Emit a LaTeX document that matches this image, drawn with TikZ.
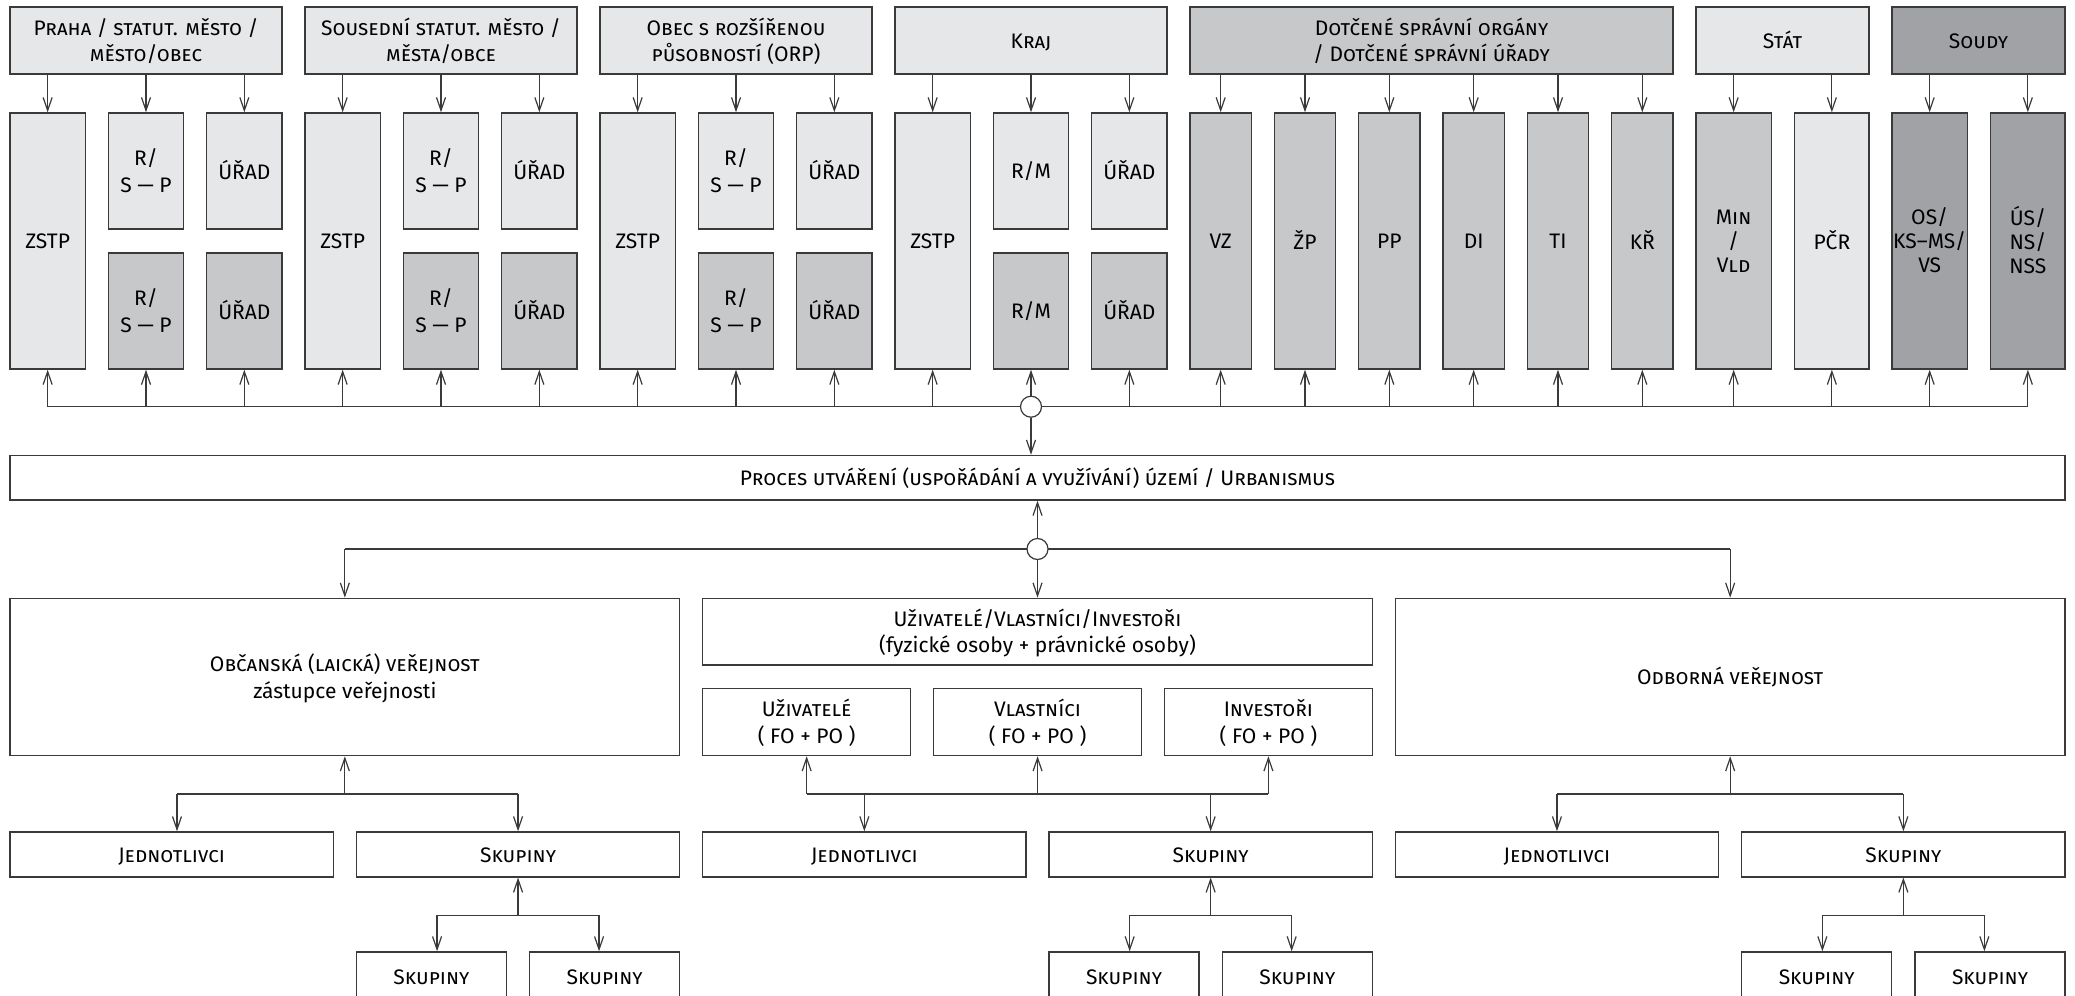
\documentclass[tikz,border=0pt]{standalone}
\usepackage{fontspec}
\setmainfont{Fira Sans}
\usetikzlibrary{arrows.meta,fit,calc}
\definecolor{lg}{HTML}{E6E7E8}
\definecolor{mg}{HTML}{C7C8CA}
\definecolor{dg}{HTML}{A1A2A5}
\definecolor{ln}{HTML}{3A3A3A}
\newcommand\cellt[1]{\begin{tabular}{@{}c@{}}#1\end{tabular}}
\tikzset{
  bx/.style={draw=ln, line width=0.75pt, inner sep=0pt},
  txt/.style={inner sep=0pt, yshift=-1.3pt},
  rm/.style={txt, font=\fontsize{10.5}{13.3}\selectfont},
  sc/.style={txt, font=\fontsize{10.5}{13.3}\selectfont\scshape},
  tight/.style={txt, font=\fontsize{10.5}{12}\selectfont},
  tightsc/.style={txt, font=\fontsize{10.5}{12}\selectfont\scshape},
  litebox/.style={bx, fill=lg},
  midbox/.style={bx, fill=mg},
  darkbox/.style={bx, fill=dg},
  whitebox/.style={bx, fill=white},
  con/.style={draw=ln, line width=0.6pt},
  arr/.style={con, -{Straight Barb[length=6.5pt,width=4.5pt]}},
  hub/.style={circle, draw=ln, fill=white, line width=0.6pt, minimum size=10.5pt, inner sep=0pt},
}
% #1 box style, #2 corner 1, #3 corner 2, #4 name, #5 text style, #6 text
\newcommand\bnode[6]{%
  \node[#1, fit={(#2) (#3)}] (#4) {};
  \node[#5] (#4-t) at (#4.center) {\cellt{#6}};
}
\newcommand\grp[3]{%
  \pgfmathsetmacro\xa{#1}\pgfmathsetmacro\xb{#1+75.3}%
  \pgfmathsetmacro\xc{#1+98.3}\pgfmathsetmacro\xd{#1+173.7}%
  \pgfmathsetmacro\xe{#1+196.7}\pgfmathsetmacro\xf{#1+272}%
  \bnode{litebox}{\xa,113}{\xb,369}{#2z}{rm}{ZSTP}
  \bnode{litebox}{\xc,113}{\xd,229}{#2mu}{rm}{#3}
  \bnode{midbox}{\xc,253}{\xd,369}{#2ml}{rm}{#3}
  \bnode{litebox}{\xe,113}{\xf,229}{#2ru}{rm}{ÚŘAD}
  \bnode{midbox}{\xe,253}{\xf,369}{#2rl}{rm}{ÚŘAD}
}
\begin{document}
\begin{tikzpicture}[x=0.5pt,y=-0.5pt]
\clip (0,0) rectangle (2075,995);
\fill[white] (0,0) rectangle (2075,995);

% headers
\bnode{litebox}{10,7}{282,74}{hA}{sc}{Praha / statut. město /\\město/obec}
\bnode{litebox}{305,7}{577,74}{hB}{sc}{Sousední statut. město /\\města/obce}
\bnode{litebox}{600,7}{872,74}{hC}{sc}{Obec s rozšířenou\\působností (ORP)}
\bnode{litebox}{895,7}{1167,74}{hD}{sc}{Kraj}
\bnode{midbox}{1190,7}{1673,74}{hE}{sc}{Dotčené správní orgány\\/ Dotčené správní úřady}
\bnode{litebox}{1696,7}{1869,74}{hF}{sc}{Stát}
\bnode{darkbox}{1892,7}{2065,74}{hG}{sc}{Soudy}

% columns
\grp{10}{p}{R/\\S — P}
\grp{305}{q}{R/\\S — P}
\grp{600}{o}{R/\\S — P}
\grp{895}{k}{R/M}
\foreach \i/\t in {0/VZ,1/ŽP,2/PP,3/DI,4/TI,5/KŘ}{
  \pgfmathsetmacro\xa{1190+\i*84.33}\pgfmathsetmacro\xb{1190+\i*84.33+61.33}
  \bnode{midbox}{\xa,113}{\xb,369}{d\i}{rm}{\t}
}
\bnode{midbox}{1696,113}{1771.3,369}{st1}{tightsc}{Min\\/\\Vld}
\bnode{litebox}{1794.7,113}{1869,369}{st2}{rm}{PČR}
\bnode{darkbox}{1892,113}{1967.3,369}{so1}{tight}{OS/\\KS–MS/\\VS}
\bnode{darkbox}{1990.7,113}{2065,369}{so2}{tight}{ÚS/\\NS/\\NSS}

% arrows header -> columns
\foreach \h/\c in {hA/pz,hA/pmu,hA/pru,hB/qz,hB/qmu,hB/qru,hC/oz,hC/omu,hC/oru,hD/kz,hD/kmu,hD/kru,
  hE/d0,hE/d1,hE/d2,hE/d3,hE/d4,hE/d5,hF/st1,hF/st2,hG/so1,hG/so2}{
  \draw[arr] (\c |- \h.south) -- (\c.north);
}

% bus under columns
\coordinate (bus) at (0,406.7);
\draw[con] (pz |- bus) -- (so2 |- bus);
\foreach \c in {pz,pml,prl,qz,qml,qrl,oz,oml,orl,kz,kml,krl,d0,d1,d2,d3,d4,d5,st1,st2,so1,so2}{
  \draw[arr] (\c |- bus) -- (\c.south);
}
\node[hub] (c1) at (kml |- bus) {};

% process
\bnode{whitebox}{10,455.5}{2065,500}{proc}{sc}{Proces utváření (uspořádání a využívání) území / Urbanismus}
\draw[arr] (c1.south) -- (c1 |- proc.north);

% lower level boxes
\bnode{whitebox}{10,598.4}{679.7,755.5}{obc}{rm}{{\scshape Občanská (laická) veřejnost}\\zástupce veřejnosti}
\bnode{whitebox}{702.7,598.4}{1372.3,665}{uvi}{rm}{{\scshape Uživatelé/Vlastníci/Investoři}\\(fyzické osoby + právnické osoby)}
\bnode{whitebox}{1395.3,598.4}{2065,755.5}{odb}{sc}{Odborná veřejnost}
\bnode{whitebox}{702.7,688.5}{910.6,755.5}{u1}{rm}{{\scshape Uživatelé}\\( FO + PO )}
\bnode{whitebox}{933.6,688.5}{1141.5,755.5}{u2}{rm}{{\scshape Vlastníci}\\( FO + PO )}
\bnode{whitebox}{1164.5,688.5}{1372.3,755.5}{u3}{rm}{{\scshape Investoři}\\( FO + PO )}

\bnode{whitebox}{10,832}{333.3,876.8}{j1}{sc}{Jednotlivci}
\bnode{whitebox}{356.4,832}{679.7,876.8}{s1}{sc}{Skupiny}
\bnode{whitebox}{702.7,832}{1026,876.8}{j2}{sc}{Jednotlivci}
\bnode{whitebox}{1049,832}{1372.3,876.8}{s2}{sc}{Skupiny}
\bnode{whitebox}{1395.3,832}{1718.6,876.8}{j3}{sc}{Jednotlivci}
\bnode{whitebox}{1741.7,832}{2065,876.8}{s3}{sc}{Skupiny}

\bnode{whitebox}{356.4,952}{506.4,1002}{g1a}{sc}{Skupiny}
\bnode{whitebox}{529.7,952}{679.7,1002}{g1b}{sc}{Skupiny}
\bnode{whitebox}{1049,952}{1199,1002}{g2a}{sc}{Skupiny}
\bnode{whitebox}{1222.3,952}{1372.3,1002}{g2b}{sc}{Skupiny}
\bnode{whitebox}{1741.7,952}{1891.7,1002}{g3a}{sc}{Skupiny}
\bnode{whitebox}{1915,952}{2065,1002}{g3b}{sc}{Skupiny}

% hub 2 and its bus
\coordinate (bus2) at (0,549);
\draw[con] (obc |- bus2) -- (odb |- bus2);
\draw[arr] (obc |- bus2) -- (obc.north);
\draw[arr] (odb |- bus2) -- (odb.north);
\node[hub] (c2) at (uvi |- bus2) {};
\draw[arr] (c2.north) -- (c2 |- proc.south);
\draw[arr] (c2.south) -- (uvi.north);

% level 2 -> 3
\coordinate (b3) at (0,794);
\coordinate (j1a) at (177,794);
\draw[con] (j1a) -- (s1 |- b3);
\draw[arr] (obc |- b3) -- (obc.south);
\draw[arr] (j1a) -- (j1a |- j1.north);
\draw[arr] (s1 |- b3) -- (s1.north);

\draw[con] (u1 |- b3) -- (u3 |- b3);
\draw[arr] (u1 |- b3) -- (u1.south);
\draw[arr] (u2 |- b3) -- (u2.south);
\draw[arr] (u3 |- b3) -- (u3.south);
\draw[arr] (j2 |- b3) -- (j2.north);
\draw[arr] (s2 |- b3) -- (s2.north);

\draw[con] (j3 |- b3) -- (s3 |- b3);
\draw[arr] (odb |- b3) -- (odb.south);
\draw[arr] (j3 |- b3) -- (j3.north);
\draw[arr] (s3 |- b3) -- (s3.north);

% level 3 -> 4
\coordinate (b4) at (0,915.2);
\foreach \k in {1,2,3}{
  \coordinate (l\k) at ($(s\k |- b4)+(-81,0)$);
  \coordinate (r\k) at ($(s\k |- b4)+(81,0)$);
  \draw[con] (l\k) -- (r\k);
  \draw[arr] (s\k |- b4) -- (s\k.south);
  \draw[arr] (l\k) -- (l\k |- g\k a.north);
  \draw[arr] (r\k) -- (r\k |- g\k b.north);
}
\end{tikzpicture}
\end{document}
